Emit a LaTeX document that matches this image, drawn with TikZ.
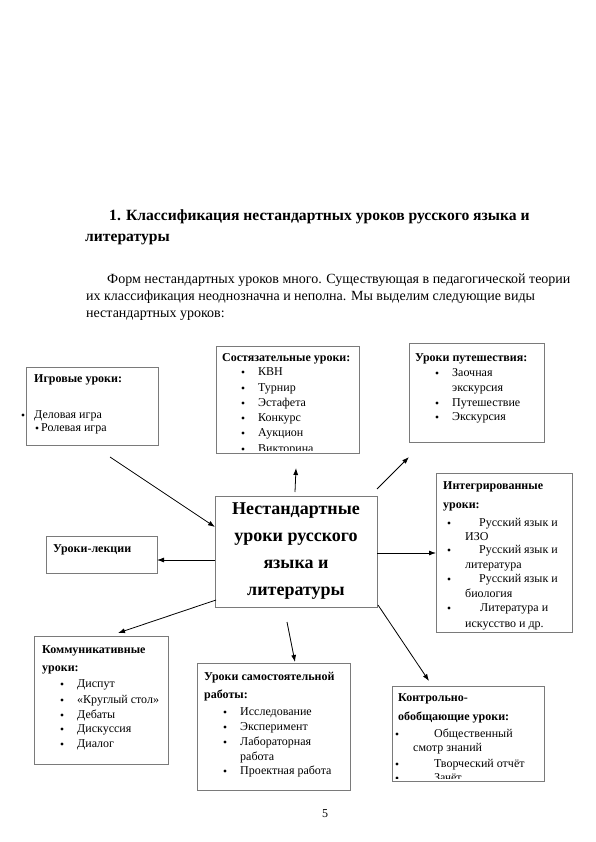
\documentclass[tikz,border=0pt]{standalone}
\usepackage{fontspec}
\setmainfont{Liberation Serif}
\usetikzlibrary{arrows.meta}
\definecolor{boxgray}{HTML}{7A7A7A}
\newcounter{tn}
\newcommand\tx[4][txt]{\stepcounter{tn}\node[#1] (t\arabic{tn}) at (#2,{#3+4}) {#4};}
\newcommand\bu[2]{\stepcounter{tn}\node[bul] (b\arabic{tn}) at (#1,{#2+1}) {};}
\begin{document}
\begin{tikzpicture}[x=1pt,y=-1pt,
  box/.style={draw=boxgray, line width=0.8pt, anchor=north west, inner sep=0pt, outer sep=0pt},
  txt/.style={anchor=base west, inner sep=0pt, font=\fontsize{12}{14}\selectfont},
  btxt/.style={txt, font=\fontsize{12}{14}\selectfont\bfseries},
  bul/.style={circle, fill=black, inner sep=0pt, minimum size=3.3pt},
  ttl/.style={anchor=base west, inner sep=0pt, font=\fontsize{15.6}{18}\selectfont\bfseries},
  para/.style={anchor=base west, inner sep=0pt, font=\fontsize{14}{16}\selectfont},
  arr/.style={-{Latex[length=7pt,width=5pt]}, line width=0.8pt, black}]
\useasboundingbox (0,0) rectangle (595,842);
\fill[white] (0,0) rectangle (595,842);

% heading and paragraph
\node[ttl] (h1) at (109,221) {1. Классификация нестандартных уроков русского языка и};
\node[ttl] (h2) at (85,241) {литературы};
\node[para] (p1) at (107,283) {Форм нестандартных уроков много. Существующая в педагогической теории};
\node[para] (p2) at (86,300) {их классификация неоднозначна и неполна. Мы выделим следующие виды};
\node[para] (p3) at (86,317) {нестандартных уроков:};

% boxes
\node[box, minimum width=132pt, minimum height=78pt] (igr) at (26,367) {};
\node[box, minimum width=143pt, minimum height=107pt] (sost) at (216,346) {};
\node[box, minimum width=135pt, minimum height=99pt] (put) at (409,343) {};
\node[box, minimum width=136pt, minimum height=159pt] (integ) at (436,473) {};
\node[box, minimum width=111pt, minimum height=37pt] (lek) at (46,536) {};
\node[box, minimum width=134pt, minimum height=128pt] (komm) at (34,636) {};
\node[box, minimum width=153pt, minimum height=127pt] (sam) at (197,663) {};
\node[box, minimum width=152pt, minimum height=95pt] (kontr) at (392,686) {};
\node[box, anchor=center, minimum width=162pt, minimum height=111pt, align=center,
  font=\fontsize{18}{27}\selectfont\bfseries] (c) at (296,551.5)
  {Нестандартные\\уроки русского\\языка и\\литературы};

% Игровые уроки
\tx[btxt]{34}{378}{Игровые уроки:}
\bu{23}{414}\tx{34}{414}{Деловая игра}
\bu{37}{427}\tx{41}{427}{Ролевая игра}

% Состязательные уроки
\tx[btxt]{222}{357}{Состязательные уроки:}
\bu{243}{371}\tx{258}{371}{КВН}
\bu{243}{387}\tx{258}{387}{Турнир}
\bu{243}{402}\tx{258}{402}{Эстафета}
\bu{243}{417}\tx{258}{417}{Конкурс}
\bu{243}{432}\tx{258}{432}{Аукцион}
\begin{scope}
\clip (216,346) rectangle (359,450.5);
\bu{243}{448}\tx{258}{448}{Викторина}
\end{scope}

% Уроки путешествия
\tx[btxt]{415}{357}{Уроки путешествия:}
\bu{437}{372}\tx{452}{372}{Заочная}
\tx{452}{387}{экскурсия}
\bu{437}{402}\tx{452}{402}{Путешествие}
\bu{437}{416}\tx{452}{416}{Экскурсия}

% Интегрированные уроки
\tx[btxt]{443}{485}{Интегрированные}
\tx[btxt]{443}{504}{уроки:}
\bu{449}{522}\tx{479}{522}{Русский язык и}
\tx{465}{536}{ИЗО}
\bu{449}{549}\tx{479}{549}{Русский язык и}
\tx{465}{564}{литература}
\bu{449}{578}\tx{479}{578}{Русский язык и}
\tx{465}{593}{биология}
\bu{449}{607}\tx{480}{607}{Литература и}
\tx{465}{623}{искусство и др.}

% Уроки-лекции
\tx[btxt]{53}{548}{Уроки-лекции}

% Коммуникативные уроки
\tx[btxt]{42}{649}{Коммуникативные}
\tx[btxt]{42}{667}{уроки:}
\bu{62}{683}\tx{77}{683}{Диспут}
\bu{62}{699}\tx{77}{699}{«Круглый стол»}
\bu{62}{714}\tx{77}{714}{Дебаты}
\bu{62}{728}\tx{77}{728}{Дискуссия}
\bu{62}{743}\tx{77}{743}{Диалог}

% Уроки самостоятельной работы
\tx[btxt]{204}{676}{Уроки самостоятельной}
\tx[btxt]{204}{694}{работы:}
\bu{225}{711}\tx{240}{711}{Исследование}
\bu{225}{726}\tx{240}{726}{Эксперимент}
\bu{225}{741}\tx{240}{741}{Лабораторная}
\tx{240}{756}{работа}
\bu{225}{770}\tx{240}{770}{Проектная работа}

% Контрольно-обобщающие уроки
\tx[btxt]{398}{697}{Контрольно-}
\tx[btxt]{398}{716}{обобщающие уроки:}
\bu{397}{733}\tx{434}{733}{Общественный}
\tx{413}{747}{смотр знаний}
\bu{397}{763}\tx{434}{763}{Творческий отчёт}
\begin{scope}
\clip (392,686) rectangle (544,778.5);
\bu{397}{777}\tx{434}{777}{Зачёт}
\end{scope}

% page number
\node[anchor=base, inner sep=0pt, font=\fontsize{12}{14}\selectfont] (pg) at (325,817) {5};

% arrows
\coordinate (a1s) at (110,457);  \coordinate (a1e) at (215,527);
\coordinate (a2s) at (295,492);  \coordinate (a2e) at (296,468);
\coordinate (a3s) at (377,489);  \coordinate (a3e) at (409,457);
\coordinate (a4s) at (377,553);  \coordinate (a4e) at (436,553);
\coordinate (a5s) at (215,560);  \coordinate (a5e) at (157,560);
\coordinate (a6s) at (216,600);  \coordinate (a6e) at (118,633);
\coordinate (a7s) at (287,622);  \coordinate (a7e) at (295,662);
\coordinate (a8s) at (378,605);  \coordinate (a8e) at (429,681);
\draw[arr] (a1s) -- (a1e);
\draw[arr] (a2s) -- (a2e);
\draw[arr] (a3s) -- (a3e);
\draw[arr] (a4s) -- (a4e);
\draw[arr] (a5s) -- (a5e);
\draw[arr] (a6s) -- (a6e);
\draw[arr] (a7s) -- (a7e);
\draw[arr] (a8s) -- (a8e);
\end{tikzpicture}
\end{document}
